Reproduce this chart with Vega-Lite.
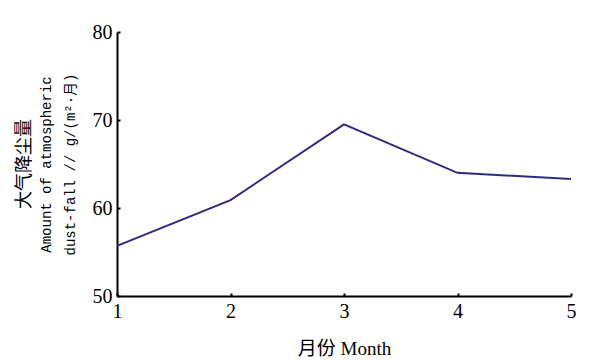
{
  "$schema": "https://vega.github.io/schema/vega-lite/v6.json",
  "width": 454,
  "height": 264,
  "autosize": {"type": "none"},
  "padding": {"left": 117, "top": 32, "right": 37, "bottom": 67},
  "background": "white",
  "title": {
    "text": "大气降尘量",
    "orient": "left",
    "anchor": "middle",
    "font": "Noto Sans CJK SC",
    "fontSize": 18,
    "fontWeight": "normal",
    "color": "black",
    "offset": 5
  },
  "data": {
    "values": [
      {"month": 1, "dust": 55.7},
      {"month": 2, "dust": 60.9},
      {"month": 3, "dust": 69.5},
      {"month": 4, "dust": 64.0},
      {"month": 5, "dust": 63.3}
    ]
  },
  "mark": {"type": "line", "color": "#2E2A80", "strokeWidth": 2},
  "encoding": {
    "x": {
      "field": "month",
      "type": "quantitative",
      "scale": {"domain": [1, 5], "nice": false, "zero": false},
      "axis": {
        "values": [1, 2, 3, 4, 5],
        "format": "d",
        "title": "月份 Month",
        "titleFont": "Liberation Serif, Noto Sans CJK SC",
        "titleFontSize": 19,
        "titleFontWeight": "normal",
        "titleColor": "black",
        "titlePadding": 18,
        "grid": false,
        "tickSize": -3,
        "tickColor": "black",
        "tickWidth": 2,
        "domainColor": "black",
        "domainWidth": 2,
        "labelFont": "Liberation Serif",
        "labelFontSize": 20,
        "labelColor": "black",
        "labelPadding": 8,
        "labelFlush": false
      }
    },
    "y": {
      "field": "dust",
      "type": "quantitative",
      "scale": {"domain": [50, 80], "nice": false, "zero": false},
      "axis": {
        "values": [50, 60, 70, 80],
        "title": ["Amount of atmospheric", "dust-fall // g/(m²·月)"],
        "titleFont": "Liberation Mono, Noto Sans CJK SC",
        "titleFontSize": 14,
        "titleFontWeight": "normal",
        "titleColor": "black",
        "titleAngle": -90,
        "titleAlign": "center",
        "titleBaseline": "middle",
        "titleLineHeight": 24,
        "titleX": -71,
        "titleY": 132,
        "grid": false,
        "tickSize": -3,
        "tickColor": "black",
        "tickWidth": 2,
        "domainColor": "black",
        "domainWidth": 2,
        "labelFont": "Liberation Serif",
        "labelFontSize": 20,
        "labelColor": "black",
        "labelPadding": 8,
        "labelFlush": false
      }
    }
  },
  "config": {"view": {"stroke": null}}
}
